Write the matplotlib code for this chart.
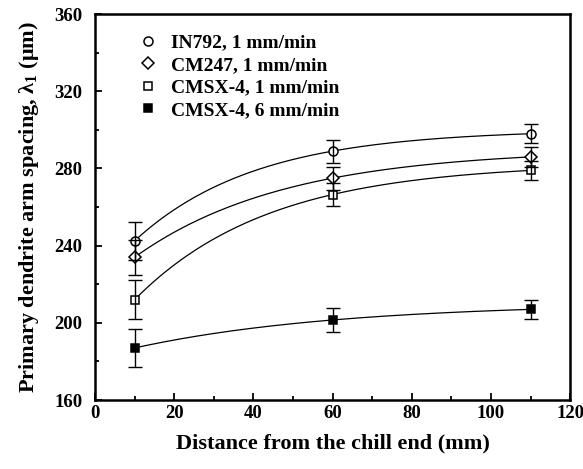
import numpy as np
import matplotlib
matplotlib.use("Agg")
from matplotlib import pyplot as plt
from matplotlib.ticker import MultipleLocator

plt.rcParams['font.family'] = ['Liberation Serif', 'DejaVu Serif']
plt.rcParams['font.weight'] = 'bold'
plt.rcParams['mathtext.fontset'] = 'custom'
plt.rcParams['mathtext.rm'] = 'Liberation Serif:bold'
plt.rcParams['mathtext.it'] = 'Liberation Serif:italic:bold'

# distance from chill end (mm)
dist = [10, 60, 110]

labels = ['IN792, 1 mm/min', 'CM247, 1 mm/min', 'CMSX-4, 1 mm/min', 'CMSX-4, 6 mm/min']
in792 = [242.5, 289, 298]
in792_err = [10, 6, 5]
cm247 = [234, 275, 286]
cm247_err = [9, 6, 5]
cmsx4_1 = [212, 266.5, 279]
cmsx4_1_err = [10, 6, 5]
cmsx4_6 = [187, 201.5, 207]
cmsx4_6_err = [10, 6, 5]

series = [in792, cm247, cmsx4_1, cmsx4_6]
errs = [in792_err, cm247_err, cmsx4_1_err, cmsx4_6_err]
markers = ['o', 'D', 's', 's']
msizes = [6.5, 6.5, 6.2, 6.2]
faces = ['white', 'white', 'white', 'black']


def sat_fit(x, y):
    # exact y = a - b*r**t through three equally spaced points
    t = (np.asarray(x, float) - x[0]) / (x[1] - x[0])
    d1 = y[1] - y[0]
    d2 = y[2] - y[1]
    r = d2 / d1
    b = d1 / (1 - r)
    a = y[0] + b
    xs = np.linspace(x[0], x[-1], 200)
    ts = (xs - x[0]) / (x[1] - x[0])
    return xs, a - b * r ** ts


fig = plt.figure(figsize=(5.83, 4.69), dpi=100)
ax = fig.add_axes([0.163, 0.147, 0.815, 0.823])

for y, e, m, ms, fc, lab in zip(series, errs, markers, msizes, faces, labels):
    xs, ys = sat_fit(dist, y)
    ax.plot(xs, ys, color='black', lw=0.9, zorder=1)
    ax.plot(dist, y, linestyle='none', marker=m, ms=ms, mfc=fc, mec='black',
            mew=1.1, label=lab, zorder=2)
    ax.errorbar(dist, y, yerr=e, fmt='none', ecolor='black', elinewidth=1.0,
                capsize=5, capthick=1.0, zorder=3)

ax.set_xlim(0, 120)
ax.set_ylim(160, 360)
ax.xaxis.set_major_locator(MultipleLocator(20))
ax.xaxis.set_minor_locator(MultipleLocator(10))
ax.yaxis.set_major_locator(MultipleLocator(40))
ax.yaxis.set_minor_locator(MultipleLocator(20))
ax.tick_params(which='both', direction='in', width=1.3, labelsize=13.5)
ax.tick_params(which='major', length=5)
ax.tick_params(which='minor', length=3)
ax.tick_params(axis='y', pad=9)
for s in ax.spines.values():
    s.set_linewidth(1.8)

ax.set_xlabel('Distance from the chill end (mm)', fontsize=16, fontweight='bold', labelpad=8)
ax.set_ylabel('Primary dendrite arm spacing, λ$_1$ (μm)', fontsize=16, fontweight='bold', labelpad=10)

leg = ax.legend(loc='upper left', frameon=False, fontsize=14, handletextpad=0.4,
                labelspacing=0.25, borderaxespad=0.0, handlelength=1.5,
                bbox_to_anchor=(0.065, 0.969))

fig.savefig('out.png', dpi=100)
